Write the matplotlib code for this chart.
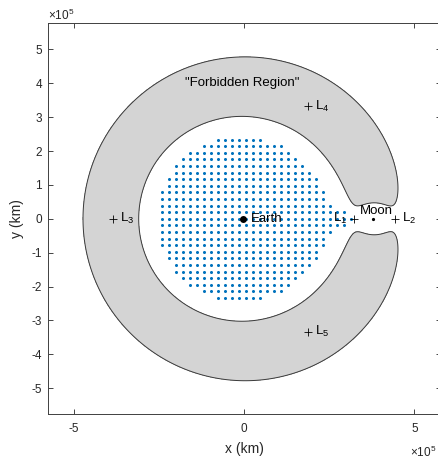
import numpy as np
import matplotlib
matplotlib.use("Agg")
import matplotlib.pyplot as plt

plt.rcParams['font.family'] = ['Liberation Sans', 'DejaVu Sans']
plt.rcParams['mathtext.fontset'] = 'custom'
plt.rcParams['mathtext.rm'] = 'Liberation Sans'
plt.rcParams['mathtext.it'] = 'Liberation Sans:italic'
plt.rcParams['mathtext.bf'] = 'Liberation Sans:bold'

# ---------------- data ----------------
mu = 0.01215            # Earth-Moon mass ratio
D_km = 384400.0         # Earth-Moon distance (km)
C_jacobi = 3.15         # Jacobi constant of the zero-velocity curve

earth_x, earth_y = -4670.0, 0.0
moon_x, moon_y = 379730.0, 0.0

lagrange_names = ['L$_1$', 'L$_2$', 'L$_3$', 'L$_4$', 'L$_5$']
lagrange_x = [321710.0, 444240.0, -386350.0, 187530.0, 187530.0]
lagrange_y = [0.0, 0.0, 0.0, 332900.0, -332900.0]

# grid of initial points (rows from top to bottom)
dot_dx = 20600.0
dot_dy = 19500.0
dot_row_y = [12, 11, 10, 9, 8, 7, 6, 5, 4, 3, 2, 1, 0,
             -1, -2, -3, -4, -5, -6, -7, -8, -9, -10, -11, -12]
dot_x_first = [-78200, -119400, -160600, -181200, -201800, -201800, -222400, -222400,
               -243000, -243000, -243000, -243000, -243000,
               -243000, -243000, -243000, -243000, -222400, -222400, -201800,
               -201800, -181200, -160600, -119400, -78200]
dot_x_last = [45400, 107200, 127800, 148400, 169000, 189600, 210200, 210200,
              230800, 230800, 251400, 292600, 313200,
              292600, 251400, 230800, 230800, 210200, 210200, 189600,
              169000, 148400, 127800, 107200, 45400]

xlim = (-5.77e5, 5.77e5)
ylim = (-5.77e5, 5.77e5)
xticks = [-5, 0, 5]
yticks = [-5, -4, -3, -2, -1, 0, 1, 2, 3, 4, 5]

# ---------------- figure ----------------
W, H = 438, 461
fig = plt.figure(figsize=(W / 100, H / 100), dpi=100)
ax = fig.add_axes([48 / W, 46.7 / H, 392.5 / W, 391 / H])

# zero-velocity curve (forbidden region where 2*Omega < C)
gx = np.linspace(xlim[0], xlim[1], 1400)
gy = np.linspace(ylim[0], ylim[1], 1400)
X, Y = np.meshgrid(gx, gy)
xn, yn = X / D_km, Y / D_km
r1 = np.sqrt((xn + mu) ** 2 + yn ** 2)
r2 = np.sqrt((xn - 1 + mu) ** 2 + yn ** 2)
J = xn ** 2 + yn ** 2 + 2 * (1 - mu) / r1 + 2 * mu / r2
ax.contourf(X, Y, J, levels=[J.min() - 1, C_jacobi], colors=['#d4d4d4'], zorder=1)
ax.contour(X, Y, J, levels=[C_jacobi], colors=['#3a3a3a'], linewidths=0.7, zorder=2)

# grid of points
px, py = [], []
for j, x0, x1 in zip(dot_row_y, dot_x_first, dot_x_last):
    xs = np.arange(x0, x1 + dot_dx / 2, dot_dx)
    px.extend(xs)
    py.extend([j * dot_dy] * len(xs))
ax.plot(px, py, 'o', ms=2.2, mew=0, color='#0072BD', zorder=3)

# Earth and Moon
ax.plot([earth_x], [earth_y], 'o', ms=5, color='black', mew=0, zorder=4)
ax.text(earth_x + 24000, earth_y, 'Earth', fontsize=9.5, ha='left', va='center', zorder=5)
ax.plot([moon_x], [moon_y], 'o', ms=2.3, color='black', mew=0, zorder=4)
ax.text(moon_x + 9000, moon_y + 24000, 'Moon', fontsize=9.5, ha='center', va='center', zorder=5)

# Lagrange points
ax.plot(lagrange_x, lagrange_y, '+', ms=6, mew=0.6, color='black', zorder=5)
for i, (nm, lx, ly) in enumerate(zip(lagrange_names, lagrange_x, lagrange_y)):
    if i == 0:
        ax.text(lx - 20000, ly, nm, fontsize=9.5, ha='right', va='center', zorder=5)
    else:
        ax.text(lx + 20000, ly, nm, fontsize=9.5, ha='left', va='center', zorder=5)

ax.text(-5000, 4.0e5, '"Forbidden Region"', fontsize=9.5, ha='center', va='center', zorder=5)

# axes styling
ax.set_xlim(*xlim)
ax.set_ylim(*ylim)
ax.set_xticks([t * 1e5 for t in xticks])
ax.set_xticklabels([str(t) for t in xticks])
ax.set_yticks([t * 1e5 for t in yticks])
ax.set_yticklabels([str(t) for t in yticks])
ax.tick_params(direction='in', top=True, right=True, length=3.5, width=0.6,
               colors='#262626', labelsize=8.5)
ax.tick_params(axis='x', pad=6)
ax.tick_params(axis='y', pad=4.2)
for s in ax.spines.values():
    s.set_color('#404040')
    s.set_linewidth(0.7)

fig.text(244 / W, 1 - 449 / H, 'x (km)', fontsize=10, ha='center', va='center', color='#262626')
fig.text(17 / W, 1 - 219 / H, 'y (km)', fontsize=10, ha='center', va='center',
         rotation=90, color='#262626')
ax.text(0.0, 1.0 + 3.3 / 391, '\u00d710$^{5}$', transform=ax.transAxes, fontsize=8.5,
        ha='left', va='baseline', color='#262626')
fig.text(436.5 / W, 1 - 456.5 / H, '\u00d710$^{5}$', fontsize=8.5,
         ha='right', va='baseline', color='#262626')

fig.savefig('out.png', dpi=100)
